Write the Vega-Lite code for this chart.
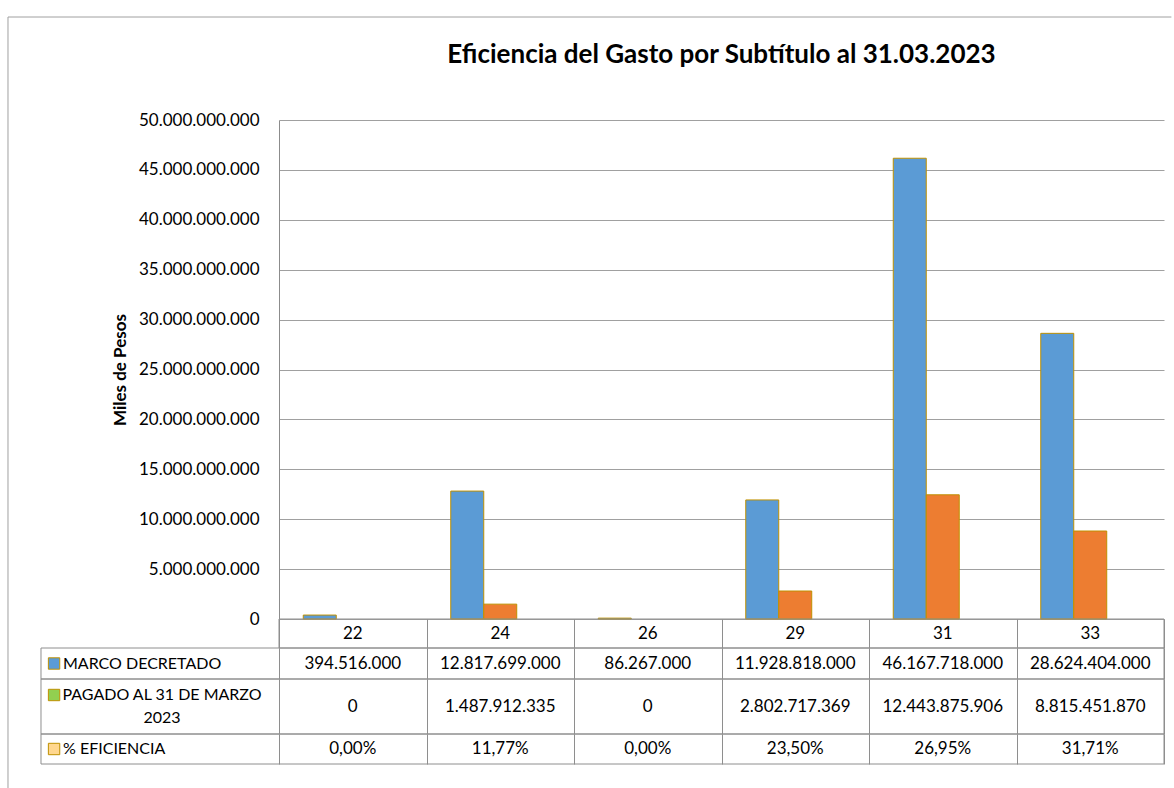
{
  "$schema": "https://vega.github.io/schema/vega-lite/v6.json",
  "padding": {"left": 7, "top": 16, "right": 0, "bottom": 0},
  "background": "white",
  "datasets": {
    "gasto": [
      {"sub": "22", "marco": 394516000, "pagado": 0, "ef": 0},
      {"sub": "24", "marco": 12817699000, "pagado": 1487912335, "ef": 0.1177},
      {"sub": "26", "marco": 86267000, "pagado": 0, "ef": 0},
      {"sub": "29", "marco": 11928818000, "pagado": 2802717369, "ef": 0.2350},
      {"sub": "31", "marco": 46167718000, "pagado": 12443875906, "ef": 0.2695},
      {"sub": "33", "marco": 28624404000, "pagado": 8815451870, "ef": 0.3171}
    ]
  },
  "data": {"name": "gasto"},
  "spacing": 0,
  "bounds": "flush",
  "vconcat": [
    {
      "width": 885,
      "height": 499,
      "title": {"text": "Eficiencia del Gasto por Subtítulo al 31.03.2023", "anchor": "middle", "frame": "group", "fontSize": 26, "font": "Lato", "fontWeight": "bold", "color": "#000", "offset": 43},
      "transform": [
        {"fold": ["marco", "pagado"], "as": ["serie", "valor"]},
        {"filter": "datum.valor > 0"}
      ],
      "mark": {"type": "bar", "stroke": "#BF9000", "strokeWidth": 1},
      "encoding": {
        "x": {"field": "sub", "type": "nominal", "sort": null, "scale": {"domain": ["22", "24", "26", "29", "31", "33"], "paddingInner": 0.329, "paddingOuter": 0.1645}, "axis": null},
        "xOffset": {"field": "serie", "type": "nominal", "scale": {"domain": ["marco", "pagado", "ef"], "paddingInner": 0, "paddingOuter": 0}},
        "y": {"field": "valor", "type": "quantitative", "scale": {"domain": [0, 50000000000]},
          "axis": {"tickCount": 10, "format": ",d", "labelFont": "Lato", "labelFontSize": 17, "labelColor": "#000", "labelPadding": 20, "ticks": false, "domainColor": "#8C8C8C", "gridColor": "#A0A0A0", "title": "Miles de Pesos", "titleFont": "Lato", "titleFontSize": 17, "titleFontWeight": "bold", "titleColor": "#000", "titlePadding": 9}},
        "color": {"field": "serie", "type": "nominal", "scale": {"domain": ["marco", "pagado"], "range": ["#5B9BD5", "#ED7D31"]}, "legend": null}
      }
    },
    {
      "width": 885,
      "height": 29,
      "resolve": {"scale": {"x": "independent"}, "axis": {"x": "independent"}},
      "layer": [
        {
          "data": {"values": [{"fila": "subtitulo"}]},
          "mark": {"type": "rect", "fillOpacity": 0, "stroke": "#8E8E8E", "strokeWidth": 1},
          "encoding": {"x": {"datum": 0, "type": "quantitative", "scale": {"domain": [0, 6]}, "axis": null}, "x2": {"datum": 6}}
        },
        {
          "mark": {"type": "text", "fontSize": 17, "font": "Lato", "color": "#000"},
          "encoding": {
            "x": {"field": "sub", "type": "nominal", "sort": null, "scale": {"domain": ["22", "24", "26", "29", "31", "33"], "paddingInner": 0, "paddingOuter": 0}, "axis": {"grid": true, "tickBand": "extent", "labels": false, "ticks": false, "domain": false, "title": null, "gridColor": "#8E8E8E"}},
            "text": {"field": "sub"}
          }
        }
      ]
    },
    {
      "width": 885,
      "height": 31,
      "resolve": {"scale": {"x": "independent"}, "axis": {"x": "independent"}},
      "layer": [
        {
          "data": {"values": [{"fila": "MARCO DECRETADO"}]},
          "mark": {"type": "rect", "fillOpacity": 0, "stroke": "#8E8E8E", "strokeWidth": 1},
          "encoding": {"x": {"datum": -1.6136, "type": "quantitative", "scale": {"domain": [0, 6]}, "axis": null}, "x2": {"datum": 6}}
        },
        {
          "data": {"values": [{"fila": "MARCO DECRETADO"}]},
          "mark": {"type": "point", "shape": "square", "size": 130, "filled": true, "fill": "#5B9BD5", "stroke": "#BF9000", "strokeWidth": 1, "opacity": 1},
          "encoding": {"x": {"datum": -1.525, "type": "quantitative", "scale": {"domain": [0, 6]}, "axis": null}}
        },
        {
          "data": {"values": [{"fila": "MARCO DECRETADO"}]},
          "mark": {"type": "text", "align": "left", "fontSize": 16, "font": "Lato", "color": "#000"},
          "encoding": {"x": {"datum": -1.4644, "type": "quantitative", "scale": {"domain": [0, 6]}, "axis": null}, "text": {"field": "fila"}}
        },
        {
          "mark": {"type": "text", "fontSize": 17, "font": "Lato", "color": "#000"},
          "encoding": {
            "x": {"field": "sub", "type": "nominal", "sort": null, "scale": {"domain": ["22", "24", "26", "29", "31", "33"], "paddingInner": 0, "paddingOuter": 0}, "axis": {"grid": true, "tickBand": "extent", "labels": false, "ticks": false, "domain": false, "title": null, "gridColor": "#8E8E8E"}},
            "text": {"field": "marco", "format": ",d"}
          }
        }
      ]
    },
    {
      "width": 885,
      "height": 55,
      "resolve": {"scale": {"x": "independent"}, "axis": {"x": "independent"}},
      "layer": [
        {
          "data": {"values": [{"fila": "PAGADO AL 31 DE MARZO\n2023"}]},
          "mark": {"type": "rect", "fillOpacity": 0, "stroke": "#8E8E8E", "strokeWidth": 1},
          "encoding": {"x": {"datum": -1.6136, "type": "quantitative", "scale": {"domain": [0, 6]}, "axis": null}, "x2": {"datum": 6}}
        },
        {
          "data": {"values": [{"fila": "PAGADO AL 31 DE MARZO\n2023"}]},
          "mark": {"type": "point", "shape": "square", "size": 130, "filled": true, "fill": "#92D050", "stroke": "#BF9000", "strokeWidth": 1, "opacity": 1, "yOffset": -11.5},
          "encoding": {"x": {"datum": -1.525, "type": "quantitative", "scale": {"domain": [0, 6]}, "axis": null}}
        },
        {
          "data": {"values": [{"fila": "PAGADO AL 31 DE MARZO\n2023"}]},
          "mark": {"type": "text", "align": "center", "fontSize": 16, "font": "Lato", "color": "#000", "lineBreak": "\n", "lineHeight": 22.5, "dy": -11.25},
          "encoding": {"x": {"datum": -0.7932, "type": "quantitative", "scale": {"domain": [0, 6]}, "axis": null}, "text": {"field": "fila"}}
        },
        {
          "mark": {"type": "text", "fontSize": 17, "font": "Lato", "color": "#000"},
          "encoding": {
            "x": {"field": "sub", "type": "nominal", "sort": null, "scale": {"domain": ["22", "24", "26", "29", "31", "33"], "paddingInner": 0, "paddingOuter": 0}, "axis": {"grid": true, "tickBand": "extent", "labels": false, "ticks": false, "domain": false, "title": null, "gridColor": "#8E8E8E"}},
            "text": {"field": "pagado", "format": ",d"}
          }
        }
      ]
    },
    {
      "width": 885,
      "height": 30,
      "resolve": {"scale": {"x": "independent"}, "axis": {"x": "independent"}},
      "layer": [
        {
          "data": {"values": [{"fila": "% EFICIENCIA"}]},
          "mark": {"type": "rect", "fillOpacity": 0, "stroke": "#8E8E8E", "strokeWidth": 1},
          "encoding": {"x": {"datum": -1.6136, "type": "quantitative", "scale": {"domain": [0, 6]}, "axis": null}, "x2": {"datum": 6}}
        },
        {
          "data": {"values": [{"fila": "% EFICIENCIA"}]},
          "mark": {"type": "point", "shape": "square", "size": 130, "filled": true, "fill": "#FFD78F", "stroke": "#BF9000", "strokeWidth": 1, "opacity": 1},
          "encoding": {"x": {"datum": -1.525, "type": "quantitative", "scale": {"domain": [0, 6]}, "axis": null}}
        },
        {
          "data": {"values": [{"fila": "% EFICIENCIA"}]},
          "mark": {"type": "text", "align": "left", "fontSize": 16, "font": "Lato", "color": "#000"},
          "encoding": {"x": {"datum": -1.4644, "type": "quantitative", "scale": {"domain": [0, 6]}, "axis": null}, "text": {"field": "fila"}}
        },
        {
          "mark": {"type": "text", "fontSize": 17, "font": "Lato", "color": "#000"},
          "encoding": {
            "x": {"field": "sub", "type": "nominal", "sort": null, "scale": {"domain": ["22", "24", "26", "29", "31", "33"], "paddingInner": 0, "paddingOuter": 0}, "axis": {"grid": true, "tickBand": "extent", "labels": false, "ticks": false, "domain": false, "title": null, "gridColor": "#8E8E8E"}},
            "text": {"field": "ef", "format": ".2%"}
          }
        },
        {
          "data": {"values": [{"borde": "marco"}]},
          "mark": {"type": "rule", "color": "#A0A0A0", "strokeWidth": 1},
          "encoding": {"x": {"datum": -1.8373, "type": "quantitative", "scale": {"domain": [0, 6]}, "axis": null}, "y": {"datum": 24.9, "type": "quantitative", "scale": {"domain": [0, 1]}, "axis": null}, "y2": {"datum": -0.8}}
        },
        {
          "data": {"values": [{"borde": "marco"}]},
          "mark": {"type": "rule", "color": "#A0A0A0", "strokeWidth": 1},
          "encoding": {"x": {"datum": -1.8373, "type": "quantitative", "scale": {"domain": [0, 6]}, "axis": null}, "x2": {"datum": 6.05}, "y": {"datum": 24.9, "type": "quantitative", "scale": {"domain": [0, 1]}, "axis": null}}
        }
      ]
    }
  ],
  "config": {
    "locale": {"number": {"decimal": ",", "thousands": ".", "grouping": [3], "currency": ["$", ""]}},
    "view": {"stroke": null},
    "font": "Lato"
  }
}
